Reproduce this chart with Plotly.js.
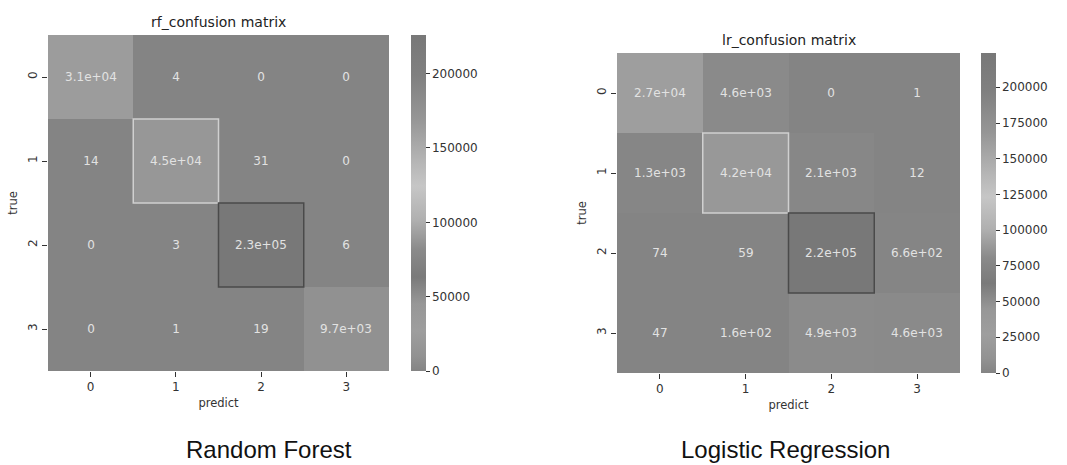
<!DOCTYPE html>
<html>
<head>
<meta charset="utf-8">
<script src="https://cdn.plot.ly/plotly-3.0.1.min.js"></script>
<style>html,body{margin:0;padding:0;background:#fff;}#chart{width:1067px;height:465px;}</style>
</head>
<body>
<div id="chart"></div>
<script>
// ---- data ----
const classLabels = ["0", "1", "2", "3"];
const rfMatrix = [
  [31000, 4, 0, 0],
  [14, 45000, 31, 0],
  [0, 3, 226000, 6],
  [0, 1, 19, 9700]
];
const lrMatrix = [
  [27000, 4600, 0, 1],
  [1300, 42000, 2100, 12],
  [74, 59, 224000, 660],
  [47, 160, 4900, 4600]
];
const rfTitle = "rf_confusion matrix";
const lrTitle = "lr_confusion matrix";
const rfCaption = "Random Forest";
const lrCaption = "Logistic Regression";
const xLabel = "predict";
const yLabel = "true";
const rfColorbarStep = 50000;
const lrColorbarStep = 25000;

// seaborn-like ".2g" formatting
function fmt2g(v) {
  if (v === 0) return "0";
  const e = Math.floor(Math.log10(Math.abs(v)));
  if (e < 2 && e >= -4) return String(Math.round(v));
  let s = v.toExponential(1);
  s = s.replace(/e([+-])(\d)$/, "e$10$2");
  return s;
}
const toText = m => m.map(r => r.map(fmt2g));

const grayScale = [
  [0.00, "#848484"],
  [0.02, "#8a8a8a"],
  [0.045, "#929292"],
  [0.12, "#9e9e9e"],
  [0.20, "#979797"],
  [0.28, "#7a7a7a"],
  [0.36, "#8a8a8a"],
  [0.45, "#b0b0b0"],
  [0.55, "#c6c6c6"],
  [0.62, "#b6b6b6"],
  [0.75, "#969696"],
  [0.88, "#808080"],
  [1.00, "#787878"]
];

const W = 1067, H = 465;
const font = "DejaVu Sans, sans-serif";
const fg = "#333333";

function heat(z, xa, ya, cb) {
  return {
    type: "heatmap",
    z: z,
    x: classLabels,
    y: classLabels,
    xaxis: xa, yaxis: ya,
    text: toText(z),
    texttemplate: "%{text}",
    textfont: {family: font, size: 12, color: "#e2e2e2"},
    colorscale: grayScale,
    zmin: 0,
    hoverinfo: "skip",
    colorbar: cb
  };
}

function cbar(x0, y0, y1, step) {
  return {
    x: x0 / W, xanchor: "left", xpad: 0, ypad: 0,
    y: 1 - ((y0 + y1) / 2) / H, yanchor: "middle",
    len: y1 - y0, lenmode: "pixels",
    thickness: 15,
    outlinewidth: 0,
    ticks: "outside", ticklen: 4, tickcolor: fg,
    dtick: step, tick0: 0, tickformat: "d",
    tickfont: {family: font, size: 12, color: fg}
  };
}

const rfBox = {l: 48, r: 389, t: 35, b: 371};
const lrBox = {l: 617, r: 960, t: 53, b: 373};

const data = [
  heat(rfMatrix, "x", "y", cbar(411, rfBox.t, rfBox.b, rfColorbarStep)),
  heat(lrMatrix, "x2", "y2", cbar(981, lrBox.t, lrBox.b, lrColorbarStep))
];

function xax(box, anchor) {
  return {
    domain: [box.l / W, box.r / W], anchor: anchor, type: "category",
    range: [-0.5, 3.5], showgrid: false, zeroline: false, showline: false,
    ticks: "outside", ticklen: 5, tickcolor: fg,
    tickfont: {family: font, size: 12, color: fg},
    title: {text: xLabel, font: {family: font, size: 11.5, color: fg}, standoff: 5},
    automargin: false, fixedrange: true
  };
}
function yax(box, anchor) {
  return {
    domain: [1 - box.b / H, 1 - box.t / H], anchor: anchor, type: "category",
    range: [3.5, -0.5], showgrid: false, zeroline: false, showline: false,
    ticks: "outside", ticklen: 5, tickcolor: fg, tickangle: -90,
    tickfont: {family: font, size: 12, color: fg},
    title: {text: yLabel, font: {family: font, size: 11.5, color: fg}, standoff: 6},
    automargin: false, fixedrange: true
  };
}

function diagShapes(xr, yr) {
  const styles = [null, {color: "#d0d0d0"}, {color: "#4a4a4a"}, null];
  const out = [];
  styles.forEach((s, i) => {
    if (!s) return;
    out.push({type: "rect", xref: xr, yref: yr, x0: i - 0.5, x1: i + 0.5, y0: i - 0.5, y1: i + 0.5,
      line: {color: s.color, width: 1.5}, fillcolor: "rgba(0,0,0,0)"});
  });
  return out;
}

function note(text, xpx, ypx, f) {
  return {text: text, xref: "paper", yref: "paper", x: xpx / W, y: 1 - ypx / H,
    xanchor: "center", yanchor: "middle", showarrow: false, font: f};
}

const titleFont = {family: font, size: 14, color: "#222"};
const capFont = {family: "Liberation Sans, Arial, sans-serif", size: 24, color: "#111"};

const layout = {
  width: W, height: H,
  margin: {l: 0, r: 0, t: 0, b: 0},
  paper_bgcolor: "#ffffff", plot_bgcolor: "#ffffff",
  showlegend: false,
  xaxis: xax(rfBox, "y"), yaxis: yax(rfBox, "x"),
  xaxis2: xax(lrBox, "y2"), yaxis2: yax(lrBox, "x2"),
  shapes: diagShapes("x", "y").concat(diagShapes("x2", "y2")),
  annotations: [
    note(rfTitle, (rfBox.l + rfBox.r) / 2, 22, titleFont),
    note(lrTitle, (lrBox.l + lrBox.r) / 2, 40, titleFont),
    note(rfCaption, 269, 449, capFont),
    note(lrCaption, 785, 449, capFont)
  ]
};

Plotly.newPlot("chart", data, layout, {displayModeBar: false, staticPlot: true});
</script>
</body>
</html>
